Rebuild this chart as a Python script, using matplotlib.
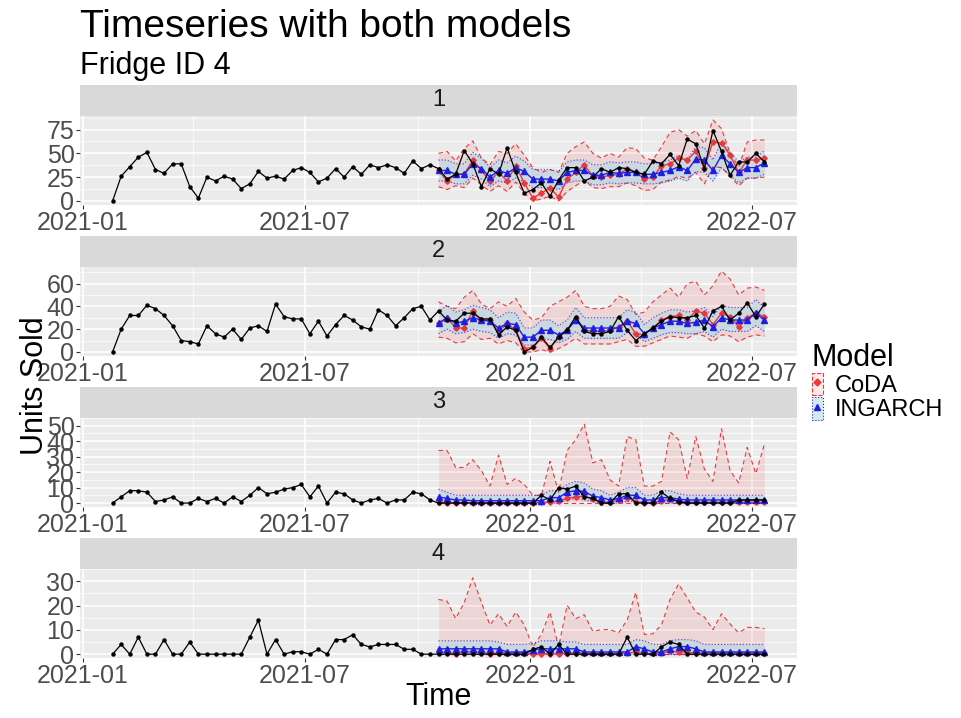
import numpy as np
import pandas as pd
import matplotlib
matplotlib.use("Agg")
import matplotlib.pyplot as plt
import matplotlib.dates as mdates
from matplotlib.patches import Patch
from matplotlib.lines import Line2D

plt.rcParams['font.family'] = ['Liberation Sans', 'DejaVu Sans']

# weekly sales, forecasts start at week 38
dates = pd.date_range('2021-01-25', periods=77, freq='7D')
fc_start = 38
fc_dates = dates[fc_start:]

actual_1 = [0, 26, 36, 46, 51, 33, 29, 39, 39, 15, 3, 25, 21, 26, 23, 13, 18, 31, 24, 26,
            23, 32, 35, 30, 20, 24, 34, 25, 36, 28, 38, 35, 38, 35, 29, 42, 34, 38,
            34, 23, 28, 53, 39, 15, 34, 28, 56, 30, 8, 12, 19, 5, 22, 35, 35, 21, 25, 34,
            30, 35, 34, 30, 28, 42, 39, 49, 37, 65, 60, 34, 74, 52, 27, 41, 41, 50, 41]
actual_2 = [0, 20, 32, 32, 41, 38, 32, 23, 10, 9, 7, 23, 16, 13, 20, 11, 21, 23, 18, 42,
            31, 29, 29, 16, 27, 14, 24, 32, 28, 22, 20, 37, 32, 23, 30, 38, 40, 28,
            36, 28, 27, 34, 34, 29, 29, 15, 22, 19, 0, 4, 13, 4, 13, 19, 31, 18, 16, 16,
            18, 31, 19, 10, 16, 21, 27, 31, 30, 30, 32, 21, 36, 40, 28, 34, 43, 31, 42]
actual_3 = [0, 4, 8, 8, 7, 1, 2, 4, 0, 0, 3, 1, 3, 0, 4, 1, 5, 10, 6, 7,
            9, 10, 12, 4, 11, 0, 7, 6, 2, 0, 2, 3, 0, 2, 2, 7, 6, 2,
            0, 0, 0, 0, 0, 0, 0, 0, 0, 0, 0, 0, 5, 2, 10, 9, 11, 4, 3, 0,
            0, 6, 6, 0, 0, 0, 7, 3, 1, 0, 0, 0, 0, 0, 0, 2, 2, 2, 2]
actual_4 = [0, 4, 0, 7, 0, 0, 6, 0, 0, 5, 0, 0, 0, 0, 0, 0, 7, 14, 0, 6,
            0, 1, 1, 0, 2, 0, 6, 6, 8, 4, 3, 4, 4, 4, 2, 2, 0, 0,
            0, 0, 0, 0, 0, 0, 0, 0, 0, 0, 0, 2, 3, 0, 4, 0, 0, 0, 0, 0,
            0, 0, 7, 0, 0, 0, 3, 5, 4, 0, 0, 0, 0, 0, 0, 0, 0, 0, 0]

coda_mean_1 = [32, 21, 28, 28, 43, 32, 21, 30, 21, 37, 19, 3, 8, 14, 4, 23, 30, 38, 26, 25,
               27, 28, 34, 30, 23, 25, 37, 39, 45, 43, 52, 35, 62, 61, 48, 30, 43, 43, 45]
coda_lo_1 = [15, 12, 16, 14, 24, 17, 10, 16, 10, 20, 8, 0, 2, 5, 0, 10, 16, 22, 14, 13,
             15, 15, 19, 16, 11, 12, 20, 22, 26, 24, 30, 18, 36, 35, 26, 16, 24, 24, 25]
coda_hi_1 = [50, 52, 42, 55, 63, 45, 38, 52, 50, 60, 48, 35, 30, 33, 30, 50, 57, 62, 50, 45,
             50, 46, 56, 55, 45, 43, 57, 72, 75, 68, 74, 60, 85, 76, 50, 36, 62, 64, 64]
ing_mean_1 = [32, 32, 28, 28, 39, 34, 25, 32, 29, 35, 31, 23, 23, 23, 21, 30, 32, 32, 27, 27,
              30, 29, 30, 30, 28, 28, 30, 32, 36, 32, 44, 43, 32, 48, 39, 30, 35, 35, 40]
ing_lo_1 = [21, 21, 18, 18, 27, 23, 15, 21, 19, 24, 20, 14, 14, 14, 12, 19, 21, 21, 17, 17,
            19, 18, 19, 19, 18, 18, 19, 21, 24, 21, 31, 30, 21, 35, 27, 19, 24, 24, 28]
ing_hi_1 = [43, 43, 39, 39, 51, 45, 35, 43, 40, 47, 42, 33, 33, 33, 31, 41, 43, 43, 38, 38,
            41, 40, 41, 41, 39, 39, 41, 43, 48, 43, 57, 56, 43, 62, 51, 41, 46, 46, 53]

coda_mean_2 = [25, 30, 21, 21, 36, 28, 28, 18, 25, 19, 3, 4, 12, 3, 13, 19, 30, 19, 18, 18,
               19, 22, 27, 16, 15, 21, 28, 31, 32, 28, 36, 34, 24, 34, 31, 22, 30, 34, 31]
coda_lo_2 = [13, 12, 8, 9, 16, 11, 12, 7, 10, 8, 0, 0, 2, 0, 3, 7, 12, 7, 7, 7,
             7, 9, 11, 5, 5, 8, 11, 14, 13, 12, 16, 14, 9, 15, 14, 9, 13, 15, 14]
coda_hi_2 = [44, 40, 38, 48, 54, 42, 38, 44, 40, 47, 35, 28, 30, 40, 44, 48, 54, 40, 38, 38,
             40, 49, 46, 33, 35, 44, 50, 56, 48, 60, 62, 50, 58, 71, 64, 50, 56, 57, 54]
ing_mean_2 = [25, 30, 25, 27, 30, 28, 27, 21, 25, 24, 13, 13, 19, 19, 15, 19, 28, 21, 21, 21,
              21, 21, 27, 25, 16, 21, 24, 27, 27, 25, 26, 28, 22, 30, 28, 28, 28, 34, 28]
ing_lo_2 = [16, 20, 16, 17, 20, 18, 17, 12, 16, 15, 6, 6, 11, 11, 8, 11, 18, 12, 12, 12,
            12, 12, 17, 16, 9, 12, 15, 17, 17, 16, 16, 18, 13, 20, 18, 18, 18, 23, 18]
ing_hi_2 = [35, 41, 35, 37, 41, 39, 37, 30, 35, 34, 21, 21, 28, 28, 23, 28, 39, 30, 30, 30,
            30, 30, 37, 35, 24, 30, 34, 37, 37, 35, 36, 39, 31, 41, 39, 39, 39, 46, 39]

coda_mean_3 = [0.5, 0.3, 0.3, 0.3, 0.3, 0.3, 0.3, 0.3, 0.3, 0.3, 0.3, 0.3, 0.5, 0.5, 1.5, 3, 4, 4.5, 2.5, 0.5,
               0.5, 2, 3.5, 1, 0.3, 0.3, 1.5, 2.5, 1, 0.5, 0.5, 0.5, 0.5, 0.5, 0.5, 0.5, 0.5, 0.5, 0.5]
coda_lo_3 = [0] * 39
coda_hi_3 = [34, 34, 23, 23, 28, 21, 11, 31, 12, 16, 12, 5, 5, 27, 7, 34, 41, 51, 26, 28,
             15, 11, 43, 41, 11, 11, 14, 46, 41, 16, 43, 22, 14, 48, 21, 13, 36, 19, 38]
ing_mean_3 = [4, 3, 2, 2, 1.5, 1.5, 1.5, 1.5, 1.5, 1.5, 1.5, 1.5, 1.5, 3.5, 3.5, 7, 8, 7.5, 4.5, 3.5,
              2, 3, 5, 5, 2, 2, 3.5, 3.5, 2.5, 2, 2, 2, 2, 2, 2, 2, 2, 2, 2]
ing_lo_3 = [0, 0, 0, 0, 0, 0, 0, 0, 0, 0, 0, 0, 0, 0, 0, 2, 3, 2, 1, 0,
            0, 0, 1, 1, 0, 0, 0, 0, 0, 0, 0, 0, 0, 0, 0, 0, 0, 0, 0]
ing_hi_3 = [9, 7, 5, 5, 5, 5, 5, 5, 5, 5, 5, 5, 5, 8, 8, 12, 14, 13, 9, 8,
            5, 7, 10, 10, 5, 5, 8, 8, 6, 5, 5, 5, 5, 5, 5, 5, 5, 5, 5]

coda_mean_4 = [0.8, 0.8, 0.2, 1.2, 0.8, 0.8, 0.2, 0.5, 0.5, 0.5, 0.5, 0.2, 0.2, 0.2, 0.2, 0.5, 0.5, 0.5, 0.3, 0.3,
               0.3, 0.3, 0.5, 0.8, 0.3, 0.3, 0.5, 1.2, 1.0, 0.8, 0.5, 0.5, 0.5, 0.5, 0.5, 0.5, 0.5, 0.5, 0.5]
coda_lo_4 = [0] * 39
coda_hi_4 = [22.5, 21.8, 14.6, 21.2, 31.4, 21.2, 12, 16.6, 11.4, 17.3, 12, 2.9, 8.1, 17.3, 2.9, 20.1, 14.6, 16.2, 9.4, 10.1,
             10.1, 8.8, 14, 25.4, 8.1, 8.4, 12, 22.5, 28.8, 23.1, 17.3, 15.3, 10.1, 16.6, 12.4, 8.8, 11, 11, 10.5]
ing_mean_4 = [2.2, 2.2, 2.2, 2.2, 2.2, 2.2, 2.2, 2.2, 0.9, 0.9, 0.9, 1.6, 2.2, 2.2, 2.2, 2.2, 2.2, 0.9, 0.9, 0.9,
              0.9, 0.9, 0.9, 3.1, 2.2, 0.9, 0.9, 2.2, 3.1, 3.1, 2.2, 0.9, 0.9, 0.9, 0.9, 0.9, 0.9, 0.9, 0.9]
ing_lo_4 = [0] * 39
ing_hi_4 = [5.5, 5.5, 5.5, 5.5, 5.5, 5.5, 5.5, 5, 4, 4, 4, 4.5, 5.5, 5.5, 5.5, 5, 5, 4, 4, 4,
            4, 4, 4, 6, 5.5, 4, 4, 5.5, 6, 6, 5.5, 4, 4, 4, 4, 4, 4, 4, 4]

panel_names = ['1', '2', '3', '4']
y_ticks = [[0, 25, 50, 75], [0, 20, 40, 60], [0, 10, 20, 30, 40, 50], [0, 10, 20, 30]]

actuals = [actual_1, actual_2, actual_3, actual_4]
coda_means = [coda_mean_1, coda_mean_2, coda_mean_3, coda_mean_4]
coda_los = [coda_lo_1, coda_lo_2, coda_lo_3, coda_lo_4]
coda_his = [coda_hi_1, coda_hi_2, coda_hi_3, coda_hi_4]
ing_means = [ing_mean_1, ing_mean_2, ing_mean_3, ing_mean_4]
ing_los = [ing_lo_1, ing_lo_2, ing_lo_3, ing_lo_4]
ing_his = [ing_hi_1, ing_hi_2, ing_hi_3, ing_hi_4]

coda_col = '#E8393C'
ing_col = '#1F1FE0'
coda_fill = (1.0, 0.0, 0.0, 0.09)
ing_fill = (0.68, 0.85, 0.90, 0.55)

W, H = 961, 718
fig = plt.figure(figsize=(W / 100, H / 100), dpi=100)

left, right = 80, 797
strip_tops = [85, 236, 387, 538]
strip_h, plot_h = 31, 89

x0 = mdates.date2num(dates[0])
x1 = mdates.date2num(dates[-1])
pad = 0.05 * (x1 - x0)

for k in range(4):
    top = strip_tops[k]
    ax = fig.add_axes([left / W, 1 - (top + strip_h + plot_h) / H,
                       (right - left) / W, plot_h / H])
    sax = fig.add_axes([left / W, 1 - (top + strip_h) / H,
                        (right - left) / W, strip_h / H])
    sax.set_facecolor('#D9D9D9')
    sax.set_xticks([])
    sax.set_yticks([])
    for s in sax.spines.values():
        s.set_visible(False)
    sax.text(0.5, 0.5, panel_names[k], ha='center', va='center',
             fontsize=17, color='#1A1A1A', transform=sax.transAxes)

    ax.set_facecolor('#EBEBEB')
    for s in ax.spines.values():
        s.set_visible(False)

    ax.fill_between(fc_dates, coda_los[k], coda_his[k], color=coda_fill, lw=0, zorder=2)
    ax.fill_between(fc_dates, ing_los[k], ing_his[k], color=ing_fill, lw=0, zorder=2)
    ax.plot(fc_dates, coda_his[k], color=coda_col, ls=(0, (4, 3)), lw=0.8, zorder=3)
    ax.plot(fc_dates, coda_los[k], color=coda_col, ls=(0, (4, 3)), lw=0.8, zorder=3)
    ax.plot(fc_dates, ing_his[k], color=ing_col, ls=(0, (1, 1.5)), lw=0.9, alpha=0.7, zorder=3)
    ax.plot(fc_dates, ing_los[k], color=ing_col, ls=(0, (1, 1.5)), lw=0.9, alpha=0.7, zorder=3)
    ax.plot(fc_dates, coda_means[k], color=coda_col, lw=1.0, marker='D', ms=2.8, zorder=4)
    ax.plot(fc_dates, ing_means[k], color=ing_col, lw=1.0, marker='^', ms=4.5, zorder=4)
    ax.plot(dates, actuals[k], color='black', lw=0.9, marker='o', ms=2.2, zorder=5)

    top_val = max(max(coda_his[k]), max(ing_his[k]), max(actuals[k]))
    ypad = 0.05 * top_val
    ax.set_ylim(-ypad, top_val + ypad)
    ax.set_xlim(x0 - pad, x1 + pad)

    yt = y_ticks[k]
    ax.set_yticks(yt)
    ax.set_yticks([(a + b) / 2 for a, b in zip(yt[:-1], yt[1:])] + [yt[-1] + (yt[1] - yt[0]) / 2], minor=True)
    ax.set_xticks(mdates.date2num(pd.to_datetime(['2021-01-01', '2021-07-01', '2022-01-01', '2022-07-01'])))
    ax.set_xticks(mdates.date2num(pd.to_datetime(['2021-04-01', '2021-10-01', '2022-04-01'])), minor=True)
    ax.xaxis.set_major_formatter(mdates.DateFormatter('%Y-%m'))
    ax.grid(which='major', color='white', lw=1.2, zorder=0)
    ax.grid(which='minor', color='white', lw=0.5, zorder=0)
    ax.set_axisbelow(True)
    ax.tick_params(which='major', labelsize=18, labelcolor='#4D4D4D', color='#333333',
                   length=3, width=0.8, pad=1)
    ax.tick_params(which='minor', length=0)

fig.text(80 / W, 1 - 37 / H, 'Timeseries with both models', fontsize=28, va='baseline', ha='left')
fig.text(80 / W, 1 - 74 / H, 'Fridge ID 4', fontsize=22, va='baseline', ha='left')
fig.text(35 / W, 1 - 386 / H, 'Units Sold', fontsize=22, rotation=90, ha='center', va='center')
fig.text((left + right) / 2 / W, 1 - 697 / H, 'Time', fontsize=22, ha='center', va='center')

coda_key = (Patch(facecolor=coda_fill, edgecolor=coda_col, ls='--', lw=0.8),
            Line2D([], [], color=coda_col, marker='D', ms=3.5, ls='none'))
ing_key = (Patch(facecolor=ing_fill, edgecolor=ing_col, ls=':', lw=0.8),
           Line2D([], [], color=ing_col, marker='^', ms=5, ls='none'))
fig.legend([coda_key, ing_key], ['CoDA', 'INGARCH'], title='Model',
           loc='upper left', bbox_to_anchor=(795 / W, 1 - 326 / H),
           frameon=False, fontsize=17, title_fontsize=22, alignment='left',
           handlelength=0.5, handleheight=1.1, labelspacing=0.0, handletextpad=0.5,
           borderpad=0.2)

fig.savefig('out.png', dpi=100)
